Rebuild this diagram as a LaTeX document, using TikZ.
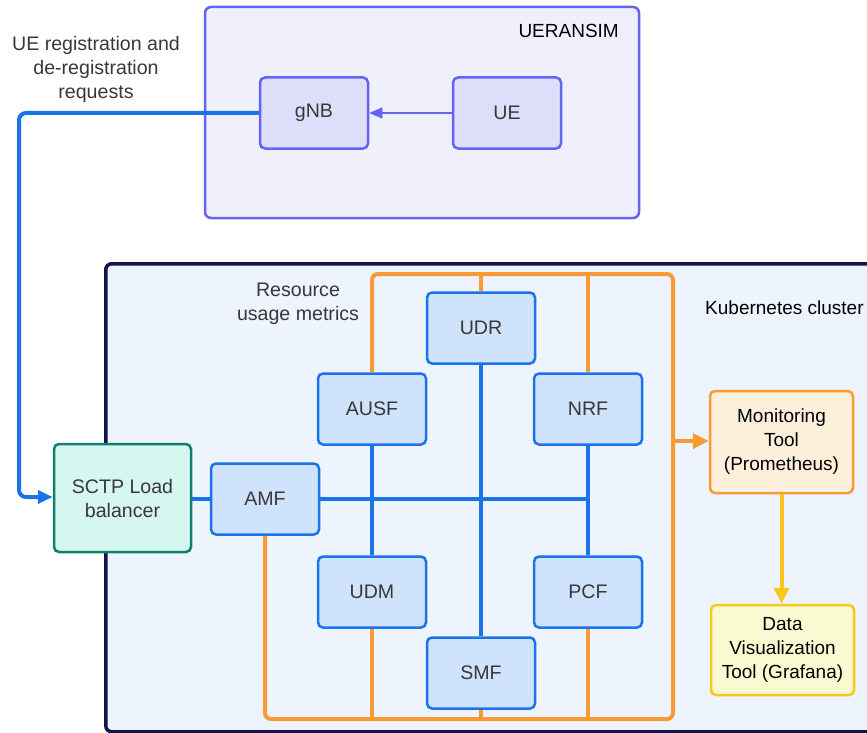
\documentclass[tikz,border=0pt]{standalone}
\usepackage{fontspec}
\setmainfont{Liberation Sans}
\usetikzlibrary{arrows.meta}

\definecolor{simfill}{HTML}{F0F0FC}
\definecolor{simline}{HTML}{6464F2}
\definecolor{simbox}{HTML}{DEDEFA}
\definecolor{k8sfill}{HTML}{EDF4FE}
\definecolor{k8sline}{HTML}{12124C}
\definecolor{nffill}{HTML}{CFE3FC}
\definecolor{nfline}{HTML}{1A74E8}
\definecolor{lbfill}{HTML}{D6F6F0}
\definecolor{lbline}{HTML}{10806E}
\definecolor{orangeline}{HTML}{F99A35}
\definecolor{monfill}{HTML}{FDF0DA}
\definecolor{yellowline}{HTML}{F8C81C}
\definecolor{grafill}{HTML}{FAFAD2}
\definecolor{txtgray}{HTML}{383838}

\tikzset{
  lbl/.style={font=\fontsize{19.6}{24}\selectfont, text=txtgray, align=center, inner sep=0pt},
  lblk/.style={font=\fontsize{19}{24}\selectfont, text=black, align=center, inner sep=0pt},
  simnode/.style={draw=simline, fill=simbox, line width=2.5pt, rounded corners=5pt,
    minimum width=108pt, minimum height=71pt, lbl},
  nfnode/.style={draw=nfline, fill=nffill, line width=2.5pt, rounded corners=5pt,
    minimum width=108pt, minimum height=71pt, lbl},
  bluebus/.style={draw=nfline, line width=4pt},
  orangebus/.style={draw=orangeline, line width=4pt},
}

\begin{document}
\begin{tikzpicture}[x=1pt, y=-1pt]
  \useasboundingbox (0,0) rectangle (867,733);
  \clip (0,0) rectangle (867,733);

  % UERANSIM container
  \node[draw=simline, fill=simfill, line width=2.5pt, rounded corners=6pt,
        minimum width=434pt, minimum height=211pt, inner sep=0pt] (ueransim) at (422,112.5) {};
  \node[lblk, anchor=east] (simtitle) at (619,31) {UERANSIM};
  \node[simnode] (gnb) at (314,113) {gNB};
  \node[simnode] (ue) at (507,113) {UE};

  % Kubernetes cluster container (open to the right)
  \node[draw=k8sline, fill=k8sfill, line width=3.5pt, rounded corners=6pt,
        minimum width=800pt, minimum height=468pt, inner sep=0pt, anchor=north west] (k8s) at (104,262) {};
  \node[lblk, anchor=west] (k8stitle) at (705,308) {Kubernetes cluster};

  % Free-standing labels
  \node[lbl] (reglbl) at (96,69) {UE registration and\\de-registration\\requests};
  \node[lbl] (reslbl) at (298,304) {Resource\\usage metrics};

  % Network functions
  \node[draw=lbline, fill=lbfill, line width=2.5pt, rounded corners=5pt,
        minimum width=137pt, minimum height=108pt, lbl] (sctp) at (122.5,498) {SCTP Load\\balancer};
  \node[nfnode] (amf) at (265,499) {AMF};
  \node[nfnode] (udr) at (481,328) {UDR};
  \node[nfnode] (ausf) at (372,409) {AUSF};
  \node[nfnode] (nrf) at (588,409) {NRF};
  \node[nfnode] (udm) at (372,592) {UDM};
  \node[nfnode] (pcf) at (588,592) {PCF};
  \node[nfnode] (smf) at (481,673) {SMF};

  % Monitoring stack
  \node[draw=orangeline, fill=monfill, line width=2.5pt, rounded corners=5pt,
        minimum width=143pt, minimum height=102pt, lblk] (mon) at (781.5,442) {Monitoring\\Tool\\(Prometheus)};
  \node[draw=yellowline, fill=grafill, line width=2.5pt, rounded corners=5pt,
        minimum width=143pt, minimum height=90pt, lblk] (graf) at (782.5,650) {Data\\Visualization\\Tool (Grafana)};

  % Bus coordinates
  \coordinate (bluend) at (590,499);
  \coordinate (otl) at (372,274);
  \coordinate (otr) at (673,274);
  \coordinate (obr) at (673,719);
  \coordinate (obl) at (265,719);
  \coordinate (otap) at (673,441);
  \coordinate (regc1) at (19,113);
  \coordinate (regc2) at (19,497);

  % Registration path from gNB to the load balancer
  \draw[bluebus, rounded corners=7pt, -{Triangle[length=15pt,width=13pt]}]
    (gnb.west) -- (regc1) -- (regc2) -- (regc2 -| sctp.west);

  % UE to gNB
  \draw[draw=simline, line width=1.3pt, -{Triangle[length=13pt,width=11pt]}] (ue.west) -- (gnb.east);

  % Service bus (blue)
  \draw[bluebus] (amf.west -| sctp.east) -- (amf.west);
  \draw[bluebus] (amf.east) -- (bluend);
  \draw[bluebus] (ausf.south) -- (udm.north);
  \draw[bluebus] (udr.south) -- (smf.north);
  \draw[bluebus] (nrf.south) -- (pcf.north);

  % Metrics bus (orange)
  \draw[orangebus, rounded corners=6pt] (ausf.north) -- (otl) -- (otr) -- (obr) -- (obl) -- (amf.south);
  \draw[orangebus] (udr.north) -- (udr.north |- otl);
  \draw[orangebus] (nrf.north) -- (nrf.north |- otl);
  \draw[orangebus] (udm.south) -- (udm.south |- obl);
  \draw[orangebus] (smf.south) -- (smf.south |- obl);
  \draw[orangebus] (pcf.south) -- (pcf.south |- obl);
  \draw[orangebus, -{Triangle[length=16pt,width=15pt]}] (otap) -- (mon.west |- otap);

  % Prometheus to Grafana
  \draw[draw=yellowline, line width=4pt, -{Triangle[length=16pt,width=15pt]}] (mon.south) -- (mon.south |- graf.north);
\end{tikzpicture}
\end{document}
